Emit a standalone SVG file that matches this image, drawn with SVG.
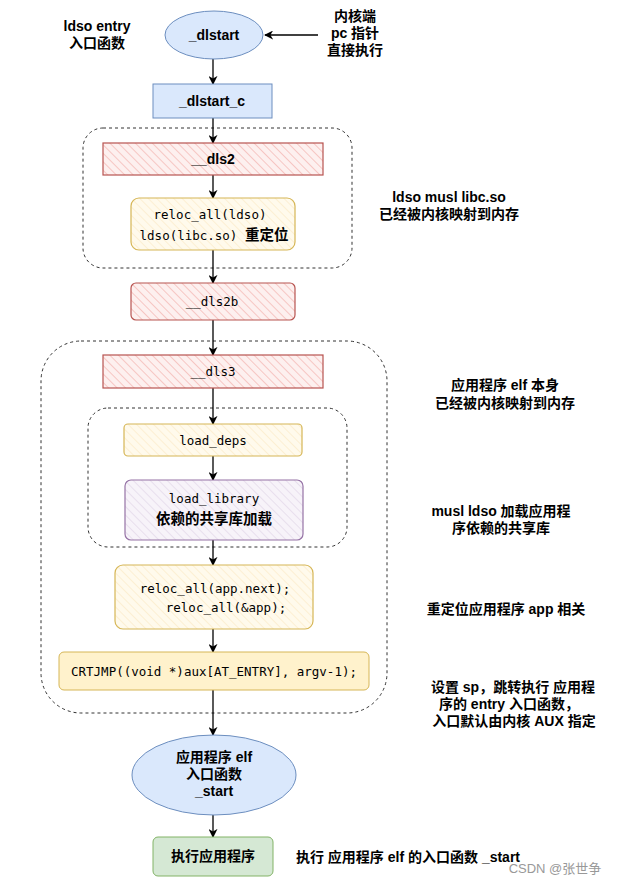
<svg xmlns="http://www.w3.org/2000/svg" width="620" height="885" viewBox="0 0 620 885">
<defs>
<marker id="arr" viewBox="0 0 10 10" refX="9" refY="5" markerWidth="9" markerHeight="9" markerUnits="userSpaceOnUse" orient="auto">
<path d="M0,0 L10,5 L0,10 L3,5 Z" fill="#000"/>
</marker>
<pattern id="hRed" patternUnits="userSpaceOnUse" width="6" height="6" patternTransform="rotate(-45)">
<rect width="6" height="6" fill="#fdf0ef"/>
<line x1="0" y1="0" x2="0" y2="6" stroke="#f4b8b4" stroke-width="1.5"/>
</pattern>
<pattern id="hYel" patternUnits="userSpaceOnUse" width="6" height="6" patternTransform="rotate(-45)">
<rect width="6" height="6" fill="#fffaec"/>
<line x1="0" y1="0" x2="0" y2="6" stroke="#fbeccb" stroke-width="1.5"/>
</pattern>
<pattern id="hPur" patternUnits="userSpaceOnUse" width="6" height="6" patternTransform="rotate(-45)">
<rect width="6" height="6" fill="#f7f3f9"/>
<line x1="0" y1="0" x2="0" y2="6" stroke="#e4d9ea" stroke-width="1.5"/>
</pattern>
</defs>
<style>
.lbl{font-family:"Liberation Sans",Arial,"Noto Sans CJK SC",sans-serif;font-size:14px;font-weight:bold;fill:#000;text-anchor:middle}
.mono{font-family:"DejaVu Sans Mono","Liberation Mono","Noto Sans CJK SC",monospace;font-size:12.5px;fill:#000;text-anchor:middle}
.cjk{font-family:"Noto Sans CJK SC",sans-serif;font-size:14.5px;font-weight:bold}
.cont{fill:none;stroke:#333;stroke-width:1;stroke-dasharray:3,3}
.edge{fill:none;stroke:#000;stroke-width:1.3;marker-end:url(#arr)}
</style>
<rect width="620" height="885" fill="#fff"/>

<g id="containers">
<rect class="cont" x="83" y="128" width="269" height="140" rx="20"/>
<rect class="cont" x="41" y="341" width="346" height="372" rx="40"/>
<rect class="cont" x="88" y="408" width="259" height="139" rx="20"/>
</g>

<g id="connectors">
<path class="edge" d="M318,35 L265,35"/>
<path class="edge" d="M213,59 L213,84"/>
<path class="edge" d="M213,118 L213,143"/>
<path class="edge" d="M213,175 L213,198"/>
<path class="edge" d="M213,250 L213,283"/>
<path class="edge" d="M213,320 L213,355"/>
<path class="edge" d="M213,388 L213,424"/>
<path class="edge" d="M213,456 L213,480"/>
<path class="edge" d="M213,540 L213,565"/>
<path class="edge" d="M213,629 L213,652"/>
<path class="edge" d="M213,690 L213,735"/>
<path class="edge" d="M213,815 L213,837"/>
</g>

<g id="dlstart">
<ellipse cx="214" cy="35" rx="49" ry="24" fill="#dae8fc" stroke="#6c8ebf"/>
<text class="lbl" x="214" y="40">_dlstart</text>
</g>
<g id="dlstart_c">
<rect x="153" y="84" width="119" height="34" fill="#dae8fc" stroke="#6c8ebf"/>
<text class="lbl" x="212" y="106">_dlstart_c</text>
</g>
<g id="dls2">
<rect x="103" y="143" width="220" height="32" fill="url(#hRed)" stroke="#b85450" stroke-width="1.2"/>
<text class="lbl" x="213" y="164">__dls2</text>
</g>
<g id="reloc_ldso">
<rect x="131" y="198" width="164" height="52" rx="8" fill="url(#hYel)" stroke="#d6b656" stroke-width="1.2"/>
<text class="mono" x="210" y="219">reloc_all(ldso)</text>
<text class="mono" x="214" y="240">ldso(libc.so) <tspan class="cjk">重定位</tspan></text>
</g>
<g id="dls2b">
<rect x="131" y="283" width="164" height="37" rx="5" fill="url(#hRed)" stroke="#b85450" stroke-width="1.2"/>
<text class="mono" x="212" y="306">__dls2b</text>
</g>
<g id="dls3">
<rect x="103" y="355" width="220" height="33" fill="url(#hRed)" stroke="#b85450" stroke-width="1.2"/>
<text class="mono" x="213" y="376">__dls3</text>
</g>
<g id="load_deps">
<rect x="124" y="424" width="178" height="32" rx="4" fill="url(#hYel)" stroke="#d6b656" stroke-width="1.2"/>
<text class="mono" x="213" y="445">load_deps</text>
</g>
<g id="load_library">
<rect x="125" y="480" width="178" height="60" rx="6" fill="url(#hPur)" stroke="#9673a6" stroke-width="1.2"/>
<text class="mono" x="214" y="503">load_library</text>
<text class="mono" x="214" y="524"><tspan class="cjk">依赖的共享库加载</tspan></text>
</g>
<g id="reloc_app">
<rect x="115" y="565" width="198" height="64" rx="8" fill="url(#hYel)" stroke="#d6b656" stroke-width="1.2"/>
<text class="mono" x="215" y="593">reloc_all(app.next);</text>
<text class="mono" x="226" y="612">reloc_all(&amp;app);</text>
</g>
<g id="crtjmp">
<rect x="59" y="652" width="310" height="38" rx="5" fill="#fff2cc" stroke="#d6b656"/>
<text class="mono" x="214" y="676">CRTJMP((void *)aux[AT_ENTRY], argv-1);</text>
</g>
<g id="app_start">
<ellipse cx="214" cy="775" rx="82" ry="40" fill="#dae8fc" stroke="#6c8ebf"/>
<text class="lbl" x="214" y="762">应用程序 elf</text>
<text class="lbl" x="214" y="779">入口函数</text>
<text class="lbl" x="214" y="796">_start</text>
</g>
<g id="run_app">
<rect x="153" y="837" width="120" height="39" rx="5" fill="#d5e8d4" stroke="#82b366"/>
<text class="lbl" x="213" y="861">执行应用程序</text>
</g>

<g id="notes">
<text class="lbl" x="97" y="31">ldso entry</text>
<text class="lbl" x="97" y="48">入口函数</text>
<text class="lbl" x="355" y="21">内核端</text>
<text class="lbl" x="355" y="38">pc 指针</text>
<text class="lbl" x="355" y="55">直接执行</text>
<text class="lbl" x="449" y="202">ldso musl libc.so</text>
<text class="lbl" x="449" y="219">已经被内核映射到内存</text>
<text class="lbl" x="505" y="390">应用程序 elf 本身</text>
<text class="lbl" x="505" y="408">已经被内核映射到内存</text>
<text class="lbl" x="501" y="516">musl ldso 加载应用程</text>
<text class="lbl" x="501" y="533">序依赖的共享库</text>
<text class="lbl" x="506" y="614">重定位应用程序 app 相关</text>
<text class="lbl" x="513" y="692">设置 sp，跳转执行 应用程</text>
<text class="lbl" x="509" y="709">序的 entry 入口函数，</text>
<text class="lbl" x="514" y="726">入口默认由内核 AUX 指定</text>
<text class="lbl" x="408" y="862">执行 应用程序 elf 的入口函数 _start</text>
<text x="555" y="873" font-family="'Liberation Sans','Noto Sans CJK SC',sans-serif" font-size="13" fill="#999" text-anchor="middle">CSDN @张世争</text>
</g>
</svg>
